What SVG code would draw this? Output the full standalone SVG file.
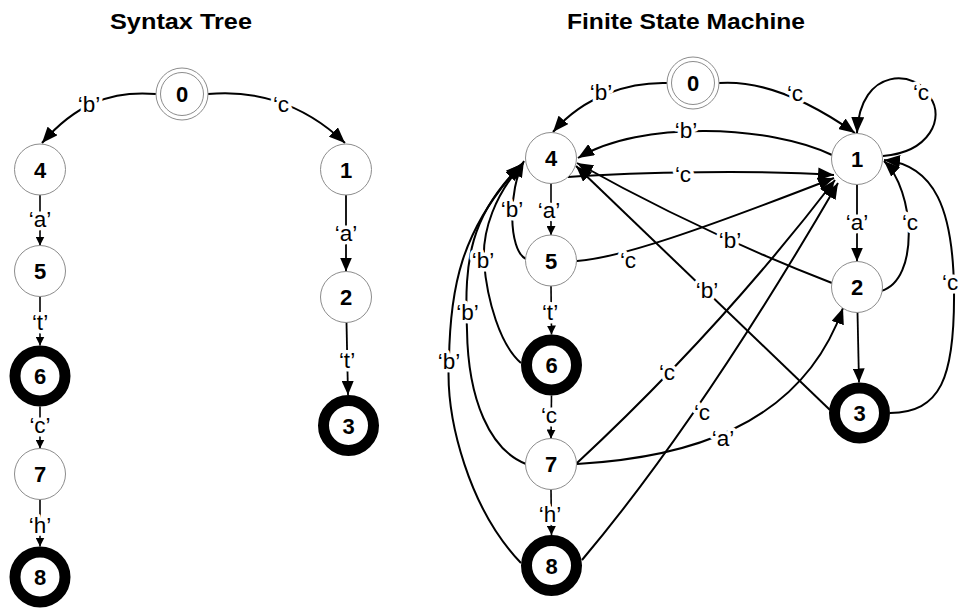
<svg xmlns="http://www.w3.org/2000/svg" width="960" height="608" viewBox="0 0 960 608">
  <defs>
    <marker id="arr-big" viewBox="0 0 16 13" refX="16" refY="6.5" markerWidth="16" markerHeight="13" markerUnits="userSpaceOnUse" orient="auto">
      <path d="M0,0 L16,6.5 L0,13 Z" fill="#000"/>
    </marker>
    <marker id="arr-mid" viewBox="0 0 14 12" refX="14" refY="6" markerWidth="14" markerHeight="12" markerUnits="userSpaceOnUse" orient="auto">
      <path d="M0,0 L14,6 L0,12 Z" fill="#000"/>
    </marker>
    <marker id="arr-sm" viewBox="0 0 9 9" refX="9" refY="4.5" markerWidth="9" markerHeight="9" markerUnits="userSpaceOnUse" orient="auto">
      <path d="M0,0 L9,4.5 L0,9 Z" fill="#000"/>
    </marker>
  </defs>
  <style>
    .title { font-family: "Liberation Sans", Arial, sans-serif; font-weight: bold; font-size: 22px; fill: #000; }
    .e { fill: none; stroke: #000; stroke-width: 2; }
    .e.big { marker-end: url(#arr-big); }
    .e.mid { marker-end: url(#arr-mid); stroke-width: 1.8; }
    .e.sm { marker-end: url(#arr-sm); stroke-width: 1.6; }
    .lbl { font-family: "Liberation Sans", Arial, sans-serif; font-size: 22.5px; fill: #000; text-anchor: middle;
           paint-order: stroke; stroke: #fff; stroke-width: 7px; stroke-linejoin: round; }
    .lbl.start { text-anchor: start; }
    .st { fill: #fff; stroke: #8c8c8c; stroke-width: 1; }
    .acc { fill: #fff; stroke: #000; stroke-width: 11; }
    .num { font-family: "Liberation Sans", Arial, sans-serif; font-weight: bold; font-size: 22px; fill: #000; text-anchor: middle; }
  </style>

  <rect x="0" y="0" width="960" height="608" fill="#fff"/>

  <text class="title" x="110" y="29" textLength="142" lengthAdjust="spacingAndGlyphs">Syntax Tree</text>
  <text class="title" x="567" y="29" textLength="238" lengthAdjust="spacingAndGlyphs">Finite State Machine</text>

  <!-- transitions -->
  <g id="connectors">
    <!-- syntax tree -->
    <path class="e big" d="M156,94 C 110,90 75,105 42,143"/>
    <path class="e big" d="M208,94 C 250,90 300,100 345,143"/>
    <path class="e sm" d="M40,195 L40,245.5"/>
    <path class="e sm" d="M40,296.5 L40,345.5"/>
    <path class="e sm" d="M40,406.5 L40,448.5"/>
    <path class="e sm" d="M40,499.5 L40,546.5"/>
    <path class="e mid" d="M346,195 L346,271.5"/>
    <path class="e mid" d="M346.5,322.5 L348,395"/>

    <!-- state machine -->
    <path class="e big" d="M667,83 C 630,82 585,95 553,132"/>
    <path class="e big" d="M719,83 C 760,80 805,98 855,133"/>
    <path class="e big" d="M883,156 C 930,152 945,118 930,97 C 918,70 860,65 857,133"/>
    <path class="e big" d="M832,155 C 770,125 640,120 578,158"/>
    <path class="e big" d="M568,177 C 640,172 760,170 834,175"/>
    <path class="e big" d="M577,261 C 620,258 700,230 834,178"/>
    <path class="e big" d="M526,259 C 508,250 508,190 524,161"/>
    <path class="e big" d="M521,363 C 500,345 487,300 484,262 C 482,230 495,195 523,163"/>
    <path class="e big" d="M526,464 C 490,450 468,400 467,330 C 464,260 470,215 522,164"/>
    <path class="e big" d="M521,563 C 470,510 445,420 449,360 C 450,290 460,230 521,165"/>
    <path class="e big" d="M577,463 Q 720,330 835,180"/>
    <path class="e big" d="M582,560 Q 700,420 838,183"/>
    <path class="e big" d="M577,464 C 680,458 800,430 843,308"/>
    <path class="e big" d="M832,283 Q 700,232 577,163"/>
    <path class="e big" d="M830,410 L 576,166"/>
    <path class="e big" d="M881,291 C 920,280 915,190 884,161"/>
    <path class="e big" d="M890,413 C 940,412 955,380 954,290 C 953,210 935,165 884,160"/>
    <path class="e mid" d="M857,184.5 L857,261.5"/>
    <path class="e mid" d="M857.5,312.5 L859,382.5"/>
    <path class="e sm" d="M551,183.5 L551,235"/>
    <path class="e sm" d="M551,286 L551.5,334.5"/>
    <path class="e sm" d="M551.5,395.5 L551,438.5"/>
    <path class="e sm" d="M551,489.5 L551.5,535"/>

    <!-- transition labels: syntax tree -->
    <text class="lbl" x="89" y="111.5">‘b’</text>
    <text class="lbl" x="281" y="111.5">‘c</text>
    <text class="lbl" x="40" y="227">‘a’</text>
    <text class="lbl" x="40" y="330">‘t’</text>
    <text class="lbl" x="40" y="433">‘c’</text>
    <text class="lbl" x="40" y="533">‘h’</text>
    <text class="lbl" x="346" y="241">‘a’</text>
    <text class="lbl" x="347" y="368">‘t’</text>

    <!-- transition labels: state machine -->
    <text class="lbl" x="601" y="100">‘b’</text>
    <text class="lbl" x="795" y="100.5">‘c</text>
    <text class="lbl" x="921" y="100">‘c</text>
    <text class="lbl" x="686" y="138">‘b’</text>
    <text class="lbl" x="683" y="181.5">‘c</text>
    <text class="lbl" x="857" y="230">‘a’</text>
    <text class="lbl" x="910" y="230">‘c</text>
    <text class="lbl" x="730" y="248">‘b’</text>
    <text class="lbl start" x="942" y="290">‘c</text>
    <text class="lbl" x="707" y="298">‘b’</text>
    <text class="lbl" x="512" y="217">‘b’</text>
    <text class="lbl" x="549" y="218">‘a’</text>
    <text class="lbl" x="628" y="268">‘c</text>
    <text class="lbl" x="483" y="268">‘b’</text>
    <text class="lbl" x="550" y="320">‘t’</text>
    <text class="lbl" x="467.5" y="320">‘b’</text>
    <text class="lbl" x="449" y="369">‘b’</text>
    <text class="lbl" x="667" y="380">‘c</text>
    <text class="lbl" x="549" y="423">‘c</text>
    <text class="lbl" x="702" y="420">‘c</text>
    <text class="lbl" x="723" y="446">‘a’</text>
    <text class="lbl" x="550" y="521.5">‘h’</text>
  </g>

  <!-- syntax tree states -->
  <g id="tree">
    <g id="t0"><circle class="st" cx="182" cy="94" r="26"/><circle class="st" cx="182" cy="94" r="21.5"/><text class="num" x="182" y="102">0</text></g>
    <g id="t4"><circle class="st" cx="40" cy="169.5" r="25.5"/><text class="num" x="40" y="177.5">4</text></g>
    <g id="t5"><circle class="st" cx="40" cy="271" r="25.5"/><text class="num" x="40" y="279">5</text></g>
    <g id="t6"><circle class="acc" cx="40" cy="376" r="25"/><text class="num" x="40" y="384">6</text></g>
    <g id="t7"><circle class="st" cx="40" cy="474" r="25.5"/><text class="num" x="40" y="482">7</text></g>
    <g id="t8"><circle class="acc" cx="40" cy="577" r="25"/><text class="num" x="40" y="585">8</text></g>
    <g id="t1"><circle class="st" cx="346" cy="169.5" r="25.5"/><text class="num" x="346" y="177.5">1</text></g>
    <g id="t2"><circle class="st" cx="346" cy="297" r="25.5"/><text class="num" x="346" y="305">2</text></g>
    <g id="t3"><circle class="acc" cx="348.5" cy="425.5" r="25"/><text class="num" x="348.5" y="433.5">3</text></g>
  </g>

  <!-- state machine states -->
  <g id="fsm">
    <g id="f0"><circle class="st" cx="693" cy="83" r="26"/><circle class="st" cx="693" cy="83" r="21.5"/><text class="num" x="693" y="91">0</text></g>
    <g id="f1"><circle class="st" cx="857" cy="159" r="25.5"/><text class="num" x="857" y="167">1</text></g>
    <g id="f2"><circle class="st" cx="857" cy="287" r="25.5"/><text class="num" x="857" y="295">2</text></g>
    <g id="f3"><circle class="acc" cx="859.5" cy="413" r="25"/><text class="num" x="859.5" y="421">3</text></g>
    <g id="f4"><circle class="st" cx="551" cy="158" r="25.5"/><text class="num" x="551" y="166">4</text></g>
    <g id="f5"><circle class="st" cx="551" cy="260.5" r="25.5"/><text class="num" x="551" y="268.5">5</text></g>
    <g id="f6"><circle class="acc" cx="551.5" cy="365" r="25"/><text class="num" x="551.5" y="373">6</text></g>
    <g id="f7"><circle class="st" cx="551" cy="464" r="25.5"/><text class="num" x="551" y="472">7</text></g>
    <g id="f8"><circle class="acc" cx="551.5" cy="565.5" r="25"/><text class="num" x="551.5" y="573.5">8</text></g>
  </g>
</svg>
